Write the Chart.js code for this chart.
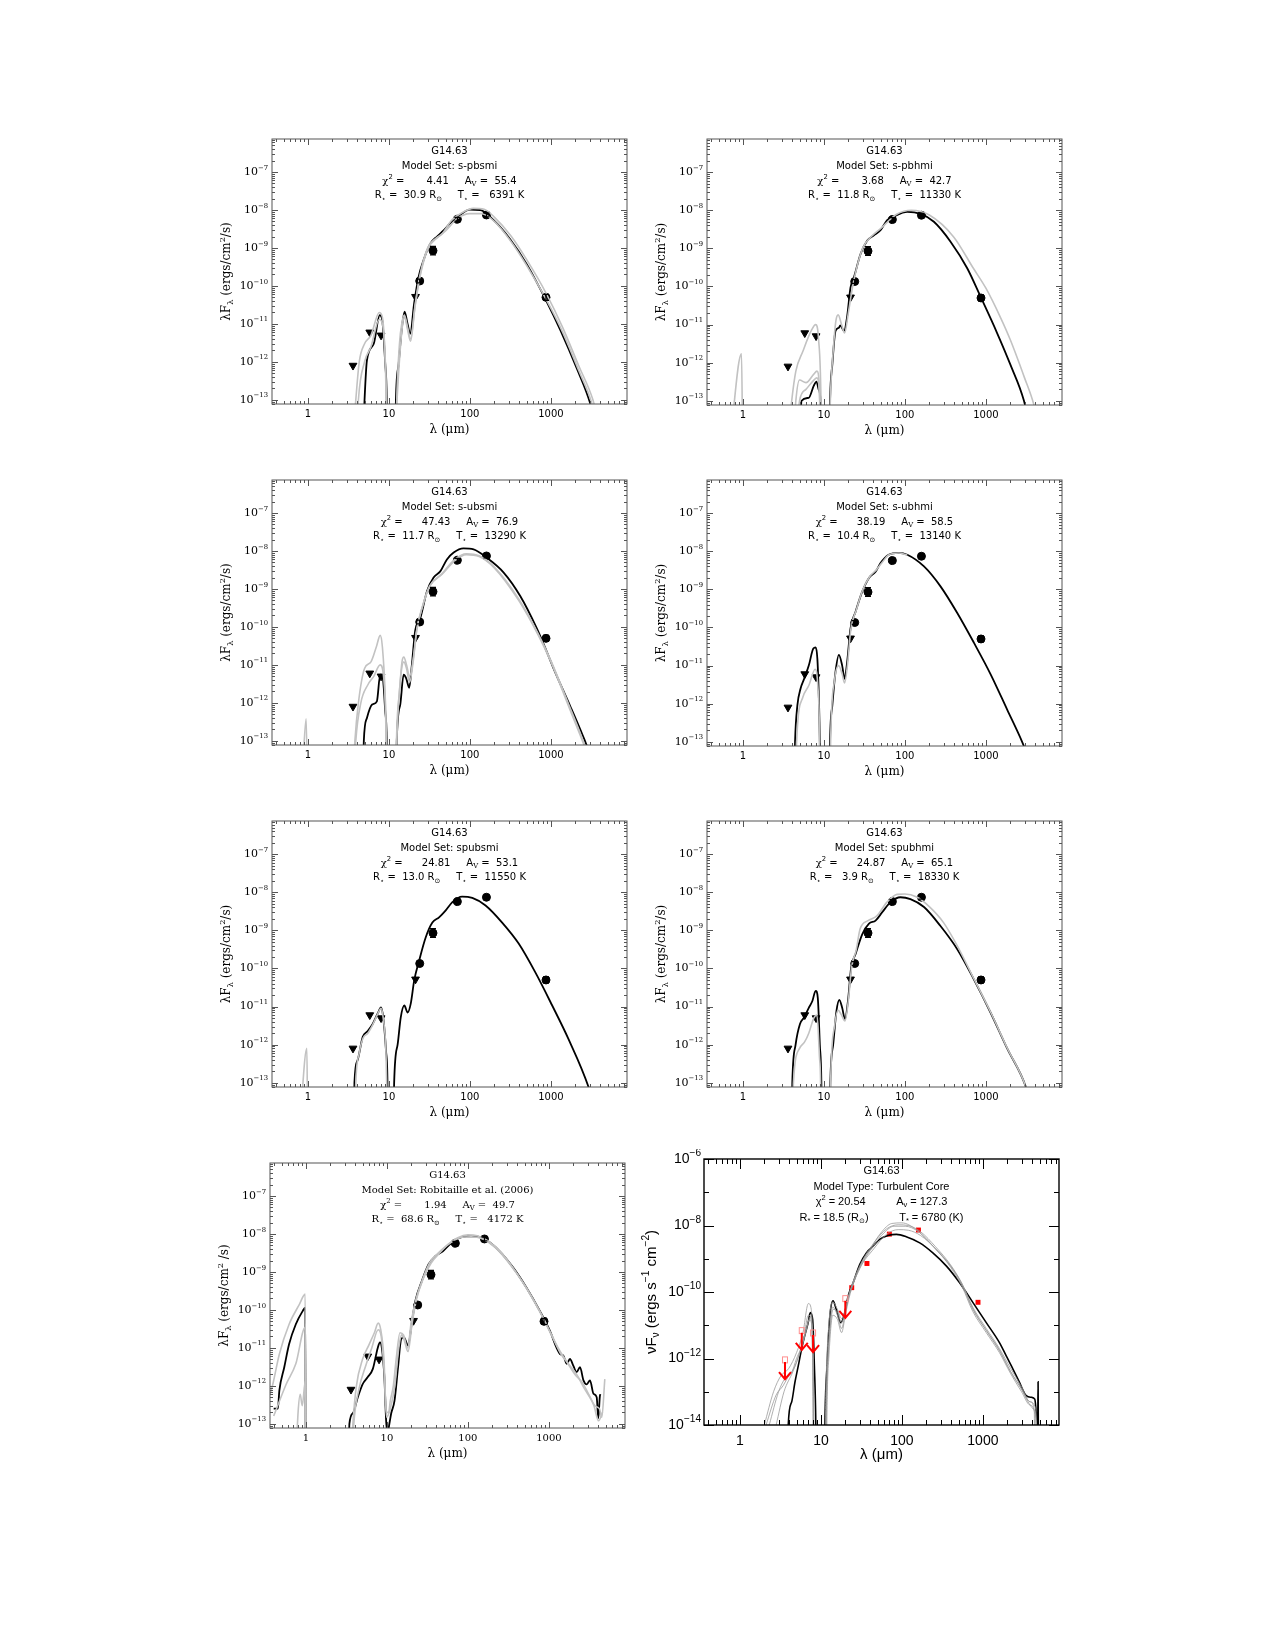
<!DOCTYPE html>
<html>
<head>
<meta charset="utf-8">
<script src="https://cdn.jsdelivr.net/npm/chart.js@4.4.1/dist/chart.umd.min.js"></script>
<style>
  body { margin: 0; background: #fff; }
  #page { position: relative; width: 1275px; height: 1650px; background: #fff; }
  canvas { position: absolute; }
</style>
</head>
<body>
<div id="page"></div>
<script>
// ---- photometry (same source in every panel) ----
const srcName = 'G14.63';
const obsLam = [24, 35, 70, 160, 870];
const obsFlux = [1.35e-10, 8.5e-10, 5.7e-9, 7.4e-9, 5.0e-11];
const obsErr = [0.12, 0.3, 0.12, 0.12, 0.2];
const limLam = [3.6, 5.8, 8.0, 21.3];
const limFlux = [8e-13, 6e-12, 5e-12, 5.2e-11];

// turbulent core panel uses its own points
const tcLam = [24, 37, 70, 160, 870];
const tcFlux = [1.35e-10, 7.2e-10, 5.5e-9, 7.3e-9, 4.9e-11];
const tcLimLam = [3.6, 5.8, 8.0, 20];
const tcLimFlux = [7.9e-13, 6e-12, 5.1e-12, 5.5e-11];

// fit parameters
const modelSets = ['s-pbsmi', 's-pbhmi', 's-ubsmi', 's-ubhmi', 'spubsmi', 'spubhmi', 'Robitaille et al. (2006)'];
const chi2 = ['4.41', '3.68', '47.43', '38.19', '24.81', '24.87', '1.94'];
const avs = ['55.4', '42.7', '76.9', '58.5', '53.1', '65.1', '49.7'];
const rStar = ['30.9', '11.8', '11.7', '10.4', '13.0', '3.9', '68.6'];
const tStar = ['6391', '11330', '13290', '13140', '11550', '18330', '4172'];
const tcChi2 = '20.54', tcAv = '127.3', tcR = '18.5', tcT = '6780';

// ---- model SEDs, [lambda um, lambda F_lambda] ----
const pbsmiBest = [[4.8,1e-14],[5.0,1e-13],[5.35,1.1e-12],[6.5,3e-12],[7.7,1.7e-11],[8.2,1.4e-11],[9.0,9e-13],[9.4,1e-13],[9.6,1e-15],[11.8,1e-15],[12.2,1e-13],[13.2,9e-13],[14.5,8.3e-12],[15.6,2.1e-11],[17,1e-11],[18.3,5.5e-12],[20.5,3.5e-11],[23.2,1.7e-10],[26.8,4.8e-10],[32.4,1.3e-9],[39.2,2e-9],[47.3,2.9e-9],[57.2,4.5e-9],[72.4,6.9e-9],[100,1.02e-8],[134,1e-8],[196,5.4e-9],[314,1.7e-9],[505,3.7e-10],[870,4.2e-11],[1308,6.9e-12],[2100,6.5e-13],[3060,8e-14],[3500,2.5e-14]];
const pbsmiGrey1 = [[3.6,1e-14],[3.9,1e-13],[4.3,1e-12],[5,3e-12],[6,5e-12],[7.6,2e-11],[8.3,1.5e-11],[9,1.2e-12],[9.3,1e-13],[9.5,1e-15],[12,1e-15],[12.5,1e-13],[13.5,3e-12],[14.5,1.1e-11],[15.5,1.7e-11],[17,8e-12],[18.5,4e-12],[21,3e-11],[24,1.8e-10],[30,1e-9],[38,1.8e-9],[45,2.3e-9],[60,5.5e-9],[80,8.5e-9],[110,1.1e-8],[150,1.05e-8],[200,6.5e-9],[320,2.1e-9],[500,5e-10],[870,6.5e-11],[1400,8e-12],[2200,8e-13],[3300,1e-13],[3800,3e-14]];
const pbsmiGrey2 = [[4,1e-14],[4.2,1e-13],[5,1e-12],[6,2.5e-12],[7.6,1.3e-11],[8.4,9e-12],[9.1,5e-13],[9.4,1e-14],[12,1e-14],[12.6,1e-13],[14.5,7e-12],[15.6,1.5e-11],[17,7e-12],[18.5,3.5e-12],[21,2.8e-11],[24,1.6e-10],[30,9e-10],[40,1.9e-9],[50,2.8e-9],[70,6e-9],[100,8e-9],[140,8e-9],[200,5e-9],[320,1.5e-9],[500,3.5e-10],[870,4.5e-11],[1400,6e-12],[2200,6e-13],[3200,8e-14],[3700,2e-14]];

const pbhmiBest = [[5.0,1e-14],[5.3,1e-13],[6.5,1.2e-13],[7.5,2.5e-13],[8.1,3.2e-13],[8.6,2e-13],[9.1,1e-13],[9.4,1e-15],[11.5,1e-15],[11.9,1e-13],[12.7,9e-13],[13.9,6.8e-12],[15.3,8.3e-12],[15.9,9.5e-12],[17.7,6.8e-12],[19.4,1.7e-11],[21.3,9.5e-11],[23.4,1.7e-10],[28.4,7.2e-10],[34.3,1.6e-9],[41.4,2.2e-9],[50,3e-9],[60.4,5.5e-9],[73,6.9e-9],[107,9.1e-9],[156,8e-9],[228,5e-9],[366,1.5e-9],[588,3e-10],[855,5.5e-11],[1375,6e-12],[2000,9e-13],[2950,1e-13],[3400,2.5e-14]];
const pbhmiSpike = [[0.7,1e-14],[0.96,1.7e-12],[0.99,1e-14]];
const pbhmiGrey1 = [[3.6,1e-14],[4,1e-13],[4.5,6e-13],[5.5,2e-12],[7,7e-12],[7.9,1e-11],[8.6,4e-12],[9.2,1e-13],[9.4,1e-15],[11.5,1e-15],[12,1e-13],[13,2e-12],[14,1.2e-11],[15,1.8e-11],[16.5,1e-11],[18,6e-12],[20,2e-11],[23,1.2e-10],[30,1e-9],[40,2.2e-9],[50,3.3e-9],[80,8e-9],[120,1e-8],[200,7.5e-9],[400,2e-9],[700,3e-10],[1000,9e-11],[1500,1.6e-11],[2000,4e-12],[3000,4e-13],[3900,8e-14],[4400,2.5e-14]];
const pbhmiGrey2 = [[4.2,1e-14],[4.5,1e-13],[5,3.5e-13],[6,3e-13],[7.5,5e-13],[8.2,6e-13],[8.8,2e-13],[9.1,1e-14]];
const pbhmiGrey3 = [[4.6,1e-14],[5,1e-13],[6,2e-13],[7.5,3.5e-13],[8.2,4e-13],[8.8,1.5e-13],[9.1,1e-14]];

const ubsmiBest = [[4.8,1e-14],[4.9,1e-13],[5.35,4e-13],[6.2,9e-13],[7.1,1.1e-12],[7.8,5.5e-12],[8.4,4.5e-12],[9.0,6e-13],[9.4,1e-13],[9.6,1e-15],[12.2,1e-15],[12.5,1e-13],[13.8,9e-13],[15.2,5.5e-12],[16.3,4.5e-12],[17.8,2.5e-12],[19.2,1e-11],[21.1,8e-11],[24.4,1.7e-10],[29.5,8.7e-10],[35.6,2e-9],[43,2.9e-9],[52,6e-9],[63,9.1e-9],[83,1.17e-8],[111,1.1e-8],[162,6.6e-9],[261,2.7e-9],[418,6.5e-10],[672,9e-11],[870,2.5e-11],[1080,8e-12],[1740,8e-13],[2300,2e-13],[2800,7e-14],[3300,2e-14]];
const ubsmiSpike = [[0.85,1e-14],[0.95,3.8e-13],[0.98,1e-14]];
const ubsmiGrey1 = [[3.6,1e-14],[3.8,1e-13],[4.2,1e-12],[5,8e-12],[6,1.2e-11],[7,3e-11],[7.8,6e-11],[8.3,3e-11],[9,1.5e-12],[9.3,1e-13],[9.5,1e-15],[12,1e-15],[12.4,1e-13],[13.5,2e-12],[14.5,1.2e-11],[15.3,1.6e-11],[16.5,1e-11],[18,5e-12],[20,1.5e-11],[22,8e-11],[26,3.5e-10],[32,1.2e-9],[45,2.5e-9],[65,6e-9],[90,8.5e-9],[130,7.5e-9],[200,3.8e-9],[400,5.5e-10],[700,6.5e-11],[1000,1.3e-11],[1700,8e-13],[2300,1.6e-13],[2800,5e-14],[3300,1.5e-14]];
const ubsmiGrey2 = [[3.7,1e-14],[3.9,1e-13],[4.5,1e-12],[5.5,3e-12],[6.5,5e-12],[7.8,1e-11],[8.5,6e-12],[9.1,5e-13],[9.4,1e-14],[12.2,1e-14],[12.5,1e-13],[14,5e-12],[15.3,1.2e-11],[16.5,8e-12],[18,3.5e-12],[20,1.3e-11],[22,8e-11],[26,3.5e-10],[32,1.2e-9],[45,2.4e-9],[65,5.5e-9],[90,8e-9],[130,7.2e-9],[200,3.6e-9],[400,5e-10],[700,6e-11],[1000,1.2e-11],[1700,7e-13],[2300,1.4e-13],[2800,4.5e-14],[3300,1.4e-14]];

const ubhmiBest = [[4.3,1e-14],[4.4,1e-13],[4.7,9e-13],[5.15,2.5e-12],[5.7,4.5e-12],[6.5,1e-11],[7.4,2.8e-11],[7.9,3e-11],[8.3,1.5e-11],[8.7,1e-12],[8.9,1e-13],[9.1,1e-15],[11.6,1e-15],[11.9,1e-13],[12.7,9e-13],[13.9,6.8e-12],[15.3,1.9e-11],[16.8,1e-11],[18,4.5e-12],[19.4,1.3e-11],[21.3,9.5e-11],[24.6,2.6e-10],[29.7,8.7e-10],[36,2e-9],[43.4,2.9e-9],[50,4.9e-9],[63,8.1e-9],[84,9.1e-9],[107,8.1e-9],[172,4e-9],[275,1.2e-9],[443,2.4e-10],[710,4e-11],[1140,6e-12],[1830,7e-13],[2800,1e-13],[3500,3e-14]];
const ubhmiGrey1 = [[4.5,1e-14],[4.6,1e-13],[5.5,1.5e-12],[6.5,3e-12],[7.8,8e-12],[8.4,3e-12],[8.8,2e-13],[9.0,1e-15],[11.8,1e-15],[12.1,1e-13],[13.5,4e-12],[15.2,1e-11],[16.8,6e-12],[18,3.5e-12],[19.5,1e-11],[21.5,9e-11],[25,2.8e-10],[30,9.5e-10],[37,2.2e-9],[44,3.2e-9],[52,5e-9],[63,8e-9],[84,9e-9],[107,8e-9]];

const spubsmiBest = [[3.7,1e-14],[3.75,1e-13],[4.1,3.9e-13],[4.75,1.6e-12],[5.5,2.3e-12],[6.3,3.5e-12],[7.25,6.5e-12],[8,9.5e-12],[8.5,5.2e-12],[9.2,7e-13],[9.6,1e-13],[9.8,1e-15],[11.3,1e-15],[11.6,1e-13],[12.8,1e-12],[14,5.2e-12],[15.5,1.07e-11],[17,7e-12],[18.6,1.2e-11],[20.5,4.8e-11],[23.6,1.6e-10],[28.5,6.6e-10],[34.4,1.6e-9],[41.6,2.2e-9],[50,3.3e-9],[60.7,5.5e-9],[80,7.7e-9],[107,7.1e-9],[156,4.5e-9],[250,1.6e-9],[400,4.5e-10],[640,8e-11],[1030,1.1e-11],[1650,1.4e-12],[2900,8e-14],[3400,2.5e-14]];
const spubsmiSpike = [[0.8,1e-14],[0.97,8e-13],[0.99,1e-14]];
const spubsmiGrey1 = [[3.8,1e-14],[3.9,1e-13],[4.3,6e-13],[4.8,1.5e-12],[5.5,2e-12],[6.3,3.3e-12],[7.25,6.3e-12],[8,9e-12],[8.5,5e-12],[9.2,6e-13],[9.6,1e-14]];

const spubhmiBest = [[4.0,1e-14],[4.07,1e-13],[4.47,1e-12],[5.06,3.5e-12],[5.66,5.1e-12],[6.5,9.3e-12],[7.2,1.4e-11],[7.9,2.6e-11],[8.4,1.7e-11],[8.9,1e-12],[9.3,1e-13],[9.5,1e-15],[11.7,1e-15],[12,1e-13],[13,1e-12],[14.3,7.8e-12],[15.5,1.5e-11],[16.8,9.3e-12],[18.2,4.7e-12],[19.8,1.4e-11],[21.7,1.07e-10],[24.6,2.4e-10],[29.7,7.9e-10],[36,1.5e-9],[43.4,1.8e-9],[52.5,3e-9],[66.5,5.5e-9],[88,7.4e-9],[117,6.6e-9],[172,4.1e-9],[275,1.3e-9],[443,3.2e-10],[710,5.2e-11],[1140,7e-12],[1830,8e-13],[3100,8e-14],[3600,2.5e-14]];
const spubhmiGrey1 = [[4.1,1e-14],[4.2,1e-13],[5,8e-13],[5.8,1.2e-12],[6.5,2e-12],[7.5,5e-12],[8.2,6e-12],[8.8,5e-13],[9.1,1e-13],[9.3,1e-15],[11.8,1e-15],[12.1,1e-13],[13.5,3e-12],[15,8e-12],[16.5,6e-12],[18.2,4.2e-12],[20,1.4e-11],[22,1.1e-10],[25,3e-10],[28,1.1e-9],[35,1.8e-9],[45,2.4e-9],[60,5.5e-9],[80,8.8e-9],[100,9e-9],[140,7.5e-9],[200,4.2e-9],[300,1.6e-9],[450,3.7e-10],[710,5.4e-11],[1140,7.2e-12],[1830,8.2e-13],[3100,8e-14],[3600,2.5e-14]];

const robBest = [[0.4,2.5e-13],[0.45,2.5e-13],[0.47,7.6e-13],[0.54,3.1e-12],[0.62,1.26e-11],[0.75,4.2e-11],[0.91,9.3e-11],[0.98,1.15e-10],[0.995,1e-15],[3.3,1e-15],[3.44,1e-13],[3.8,1.9e-13],[4.37,5e-13],[5.0,1.1e-12],[5.8,1.7e-12],[6.7,2.8e-12],[7.7,1e-11],[8.2,1.4e-11],[8.6,1.1e-11],[9.3,1.7e-12],[9.8,1.1e-13],[10.2,6e-14],[10.8,1.1e-13],[11.3,1.9e-13],[12.4,4e-13],[13.7,3e-12],[15,1.7e-11],[16.2,1.9e-11],[17.6,1.3e-11],[18.2,1.15e-11],[20.4,5e-11],[22.4,1.7e-10],[27,5.8e-10],[32.7,1.6e-9],[39.6,2.6e-9],[49,3.5e-9],[59,5.2e-9],[75.5,7.6e-9],[96,8.7e-9],[126,8.7e-9],[170,6.8e-9],[247,3.5e-9],[362,1.3e-9],[527,3.9e-10],[775,9.3e-11],[1030,2.8e-11],[1245,1e-11],[1370,6.9e-12],[1507,6.3e-12],[1660,3.8e-12],[1820,5.1e-12],[2000,3.4e-12],[2200,2.3e-12],[2420,3.1e-12],[2670,1.4e-12],[2930,1.1e-12],[3220,1.4e-12],[3550,6.2e-13],[3890,5e-13],[4070,1.4e-13],[4270,5.6e-13],[4350,6e-13]];
const robGrey1 = [[0.36,6e-13],[0.39,1.1e-12],[0.47,6.9e-12],[0.62,4.2e-11],[0.83,1.4e-10],[0.98,2.6e-10],[0.995,1e-15],[3.4,1e-15],[3.6,1e-14],[3.8,1e-13],[4.2,1e-12],[5,5e-12],[6,1.2e-11],[7,2.5e-11],[7.8,4.5e-11],[8.4,3e-11],[9.2,5e-12],[9.8,2e-13],[10.5,2e-13],[11,4e-13],[12,1e-12],[13,5e-12],[14.5,2.5e-11],[16,2.2e-11],[18,1e-11],[20,5e-11],[23,2e-10],[28,7e-10],[34,1.8e-9],[42,3e-9],[55,5e-9],[75,8e-9],[100,9.5e-9],[130,9e-9],[180,6.5e-9],[260,3.2e-9],[380,1.1e-9],[550,3.3e-10],[800,8e-11],[1100,2e-11],[1400,7e-12],[1800,3.5e-12],[2200,2e-12],[2700,9e-13],[3200,5e-13],[3700,3e-13],[4200,2.5e-13],[4500,1.5e-13],[4900,1.5e-12]];
const robGrey2 = [[0.4,1.6e-13],[0.57,1.1e-12],[0.75,3.8e-12],[0.98,3.5e-11],[0.995,1e-15],[3.5,1e-15],[3.7,1e-14],[3.9,1e-13],[4.5,8e-13],[5.5,3.5e-12],[6.5,1e-11],[7.8,3e-11],[8.5,2e-11],[9.3,2e-12],[9.9,1.5e-13],[11,2.5e-13],[12.5,1e-12],[14,1e-11],[15.2,2.2e-11],[16.5,1.5e-11],[18.2,8e-12],[20.5,4.5e-11],[23,1.8e-10],[28,6.5e-10],[35,1.7e-9],[45,3.2e-9],[60,5.8e-9],[80,8e-9],[110,8.5e-9],[150,7.5e-9],[220,4.3e-9],[330,1.6e-9],[500,4.5e-10],[750,1e-10],[1000,3e-11],[1300,1e-11],[1700,4e-12],[2100,2e-12],[2600,1.2e-12],[3100,6e-13],[3600,3e-13],[4100,1.2e-13],[4600,2e-13]];
const robGrey3 = [[0.75,1e-14],[0.8,2e-13],[0.85,6e-13],[0.9,3e-13],[0.98,1.3e-12],[0.995,1e-15]];

const tcBest = [[3.9,1e-15],[3.95,1e-14],[4.34,4.8e-14],[4.77,1.9e-13],[5.25,6e-13],[5.76,1.9e-12],[6.3,4.8e-12],[6.96,1.2e-11],[7.4,2.4e-11],[7.9,1.5e-11],[8.3,6e-13],[8.65,1e-14],[8.8,1e-16],[11,1e-16],[11.2,1e-14],[11.9,6e-13],[12.9,1.9e-11],[14.1,5.4e-11],[15.5,3e-11],[17.6,1.2e-11],[19.7,2.4e-11],[21.7,7.6e-11],[25,1.9e-10],[30.2,6.8e-10],[36.4,1.5e-9],[44,2.4e-9],[53,3.8e-9],[67.5,5e-9],[85.6,5.4e-9],[113,4.6e-9],[166,3e-9],[241,1.5e-9],[355,6e-10],[516,1.9e-10],[754,4.8e-11],[1100,1.2e-11],[1600,3e-12],[1940,1.2e-12],[2350,4.8e-13],[2830,1.9e-13],[3430,7.6e-14],[3970,6.8e-14],[4370,6e-14],[4750,1e-14],[4800,2e-13],[4850,1e-15]];
const tcGrey1 = [[2.0,1e-14],[2.6,1e-13],[3.2,3e-13],[4,5e-13],[5,1.5e-12],[6,6e-12],[7,4.5e-11],[7.6,3e-11],[8.1,1e-13],[8.3,1e-16],[11,1e-16],[11.5,1e-13],[12.5,1e-11],[14,5e-11],[16,3e-11],[18,1.6e-11],[20,3e-11],[22,8e-11],[30,5.5e-10],[40,1.8e-9],[55,6e-9],[75,1.15e-8],[100,1.2e-8],[150,7.5e-9],[250,2.2e-9],[400,6e-10],[550,1.7e-10],[750,3e-11],[1100,7e-12],[1600,1.8e-12],[2200,4e-13],[3000,1.2e-13],[3600,5e-14],[4200,3e-14],[4600,1e-14],[4700,1e-16]];
const tcGrey2 = [[2.3,1e-14],[3,1e-13],[3.6,2.5e-13],[4.3,3.5e-13],[5,1e-12],[6,3e-12],[7,2e-11],[7.6,1.5e-11],[8,1e-13],[8.2,1e-16],[11.2,1e-16],[11.8,1e-13],[13,1e-11],[14,3.5e-11],[16,2e-11],[18,8e-12],[20,2.5e-11],[22,7e-11],[30,5e-10],[45,2.5e-9],[60,6e-9],[80,9.5e-9],[110,9.5e-9],[160,6.5e-9],[250,2.2e-9],[400,5.5e-10],[550,1.5e-10],[750,2.6e-11],[1100,6e-12],[1600,1.5e-12],[2200,3.5e-13],[3000,1e-13],[3800,4e-14],[4400,2e-14],[4500,1e-16]];
const tcGrey3 = [[2.8,1e-14],[3.5,1e-13],[4.5,4e-13],[5.5,1.5e-12],[6.5,6e-12],[7.2,1.5e-11],[7.8,8e-12],[8.1,1e-13],[8.2,1e-16],[11.5,1e-16],[12,1e-13],[12.5,1e-12],[14,2e-11],[16,1.5e-11],[18,6e-12],[20,2e-11],[23,9e-11],[30,5e-10],[45,2e-9],[65,5.5e-9],[90,7.5e-9],[120,7.2e-9],[170,5e-9],[260,2e-9],[400,6e-10],[550,1.8e-10],[750,3.5e-11],[1100,8e-12],[1600,2e-12],[2200,5e-13],[3000,1.4e-13],[3800,5e-14],[4300,3e-14],[4400,1e-16]];
const tcGrey4 = [[2.1,1e-14],[2.8,8e-14],[3.4,1.5e-13],[4,3e-13],[4.8,6e-13],[5.8,2.5e-12],[6.8,1e-11],[7.4,1.8e-11],[7.9,1e-12],[8.1,1e-16],[11.3,1e-16],[11.8,1e-13],[13,8e-12],[14.2,3e-11],[16,2.5e-11],[18,1.2e-11],[20,3e-11],[23,1.1e-10],[30,6e-10],[45,3e-9],[65,8e-9],[90,1.05e-8],[120,1e-8],[170,6.5e-9],[260,2.3e-9],[400,6.5e-10],[550,1.8e-10],[750,3.2e-11],[1100,7e-12],[1600,1.7e-12],[2200,4e-13],[3000,1.2e-13],[3800,5e-14],[4500,3e-14],[4700,1e-16]];

const xTickVals = [1, 10, 100, 1000];
const yTickVals = [1e-13, 1e-12, 1e-11, 1e-10, 1e-9, 1e-8, 1e-7];
const tcYTickVals = [1e-14, 1e-12, 1e-10, 1e-8, 1e-6];

// ---- helpers ----
const SANS = '"DejaVu Sans", sans-serif';
const SERIF = '"DejaVu Serif", serif';
const IDL = '"Liberation Sans", Arial, sans-serif';
const toXY = arr => arr.map(p => ({x: p[0], y: p[1]}));
const zip = (xs, ys) => xs.map((x, i) => ({x: x, y: ys[i]}));

function drawRich(ctx, segs, x, y, size, family, align, supScale) {
  const sc = supScale || 0.68;
  const fontOf = g => (g[1] ? size * sc : size) + 'px ' + (g[2] || family);
  let w = 0;
  segs.forEach(g => { ctx.font = fontOf(g); w += ctx.measureText(g[0]).width; });
  let cx = align === 'center' ? x - w / 2 : align === 'right' ? x - w : x;
  ctx.textAlign = 'left';
  ctx.textBaseline = 'middle';
  segs.forEach(g => {
    ctx.font = fontOf(g);
    const dy = g[1] === 'sup' ? -size * 0.38 : g[1] === 'sub' ? size * 0.3 : 0;
    ctx.fillText(g[0], cx, y + dy);
    cx += ctx.measureText(g[0]).width;
  });
}

const decor = {
  id: 'decor',
  afterDatasetsDraw(chart, args, o) {
    const ctx = chart.ctx, a = chart.chartArea, xs = chart.scales.x, ys = chart.scales.y;
    ctx.save();
    chart.data.datasets.forEach(ds => {
      if (ds.errs) {
        ctx.strokeStyle = '#000';
        ctx.lineWidth = 1.3;
        ds.data.forEach((p, j) => {
          const px = xs.getPixelForValue(p.x);
          const y1 = ys.getPixelForValue(p.y * (1 + ds.errs[j]));
          const y2 = ys.getPixelForValue(p.y / (1 + ds.errs[j]));
          ctx.beginPath();
          ctx.moveTo(px, y1); ctx.lineTo(px, y2);
          ctx.moveTo(px - 3, y1); ctx.lineTo(px + 3, y1);
          ctx.moveTo(px - 3, y2); ctx.lineTo(px + 3, y2);
          ctx.stroke();
        });
      }
      if (ds.arrows) {
        ds.data.forEach(p => {
          const px = xs.getPixelForValue(p.x);
          const y0 = ys.getPixelForValue(p.y);
          const y1 = ys.getPixelForValue(p.y / 3.3);
          ctx.strokeStyle = '#ff9090';
          ctx.lineWidth = 1;
          ctx.strokeRect(px - 2.5, y0 - 5, 5, 6);
          ctx.strokeStyle = '#ff0000';
          ctx.lineWidth = 2;
          ctx.beginPath();
          ctx.moveTo(px, y0); ctx.lineTo(px, y1);
          ctx.moveTo(px - 6, y1 - 7); ctx.lineTo(px, y1); ctx.lineTo(px + 6, y1 - 7);
          ctx.stroke();
        });
      }
    });
    // frame and inward ticks on all four sides
    ctx.strokeStyle = o.frameColor;
    ctx.lineWidth = o.frameWidth;
    ctx.strokeRect(a.left, a.top, a.right - a.left, a.bottom - a.top);
    ctx.lineWidth = 1;
    ctx.beginPath();
    for (let e = -1; e <= 4; e++) {
      for (let m = 1; m < 10; m++) {
        const v = m * Math.pow(10, e);
        if (v < xs.min || v > xs.max) continue;
        const px = Math.round(xs.getPixelForValue(v)) + 0.5;
        const L = m === 1 ? o.major : o.minor;
        ctx.moveTo(px, a.bottom); ctx.lineTo(px, a.bottom - L);
        ctx.moveTo(px, a.top); ctx.lineTo(px, a.top + L);
      }
    }
    for (let e = -15; e <= -5; e++) {
      for (let m = 1; m < 10; m++) {
        if (m > 1 && !o.yMinor) continue;
        const v = m * Math.pow(10, e);
        if (v < ys.min || v > ys.max) continue;
        const py = Math.round(ys.getPixelForValue(v)) + 0.5;
        let L = m === 1 ? o.major : o.minor;
        if (o.yAlt && m === 1 && e % 2 !== 0) L = o.minor;
        ctx.moveTo(a.left, py); ctx.lineTo(a.left + L, py);
        ctx.moveTo(a.right, py); ctx.lineTo(a.right - L, py);
      }
    }
    ctx.stroke();
    ctx.restore();
  },
  afterDraw(chart, args, o) {
    const ctx = chart.ctx, a = chart.chartArea, ys = chart.scales.y;
    ctx.save();
    ctx.fillStyle = '#000';
    // y tick labels with real superscripts, placed by the y scale
    ys.ticks.forEach(t => {
      const py = ys.getPixelForValue(t.value);
      const ex = String(Math.round(Math.log10(t.value))).replace('-', '−');
      drawRich(ctx, [['10'], [ex, 'sup']], a.left - o.yLabPad, py, o.yLabSize, o.yLabFont, 'right', o.yLabSup);
    });
    const cx = (a.left + a.right) / 2;
    o.lines.forEach((segs, i) => drawRich(ctx, segs, cx, a.top + o.textTop + i * o.textGap, o.textSize, o.textFont, 'center'));
    drawRich(ctx, o.xTitle, cx, a.bottom + o.xTitleOff, o.titleSize, o.titleFont, 'center');
    ctx.translate(a.left - o.yTitleOff, (a.top + a.bottom) / 2);
    ctx.rotate(-Math.PI / 2);
    drawRich(ctx, o.yTitle, 0, 0, o.titleSize, o.titleFont, 'center');
    ctx.restore();
  }
};

const curve = (arr, color, width) => ({
  data: toXY(arr), showLine: true, pointRadius: 0, borderColor: color, borderWidth: width,
  cubicInterpolationMode: 'monotone', fill: false
});

function setLines(i) {
  return [
    [[srcName]],
    [['Model Set: ' + modelSets[i]]],
    [['χ', null, SERIF], ['2', 'sup'], [' =' + chi2[i].padStart(11) + '     A'], ['V', 'sub', SERIF], [' = ' + avs[i].padStart(5)]],
    [['R'], ['⋆', 'sub'], [' = ' + rStar[i].padStart(5) + ' R'], ['⊙', 'sub'], ['     T'], ['⋆', 'sub'], [' = ' + tStar[i].padStart(6) + ' K']]
  ];
}

function makePanel(p) {
  const PT = 10, PR = 12;
  const w = p.frame[2] - p.frame[0], h = p.frame[3] - p.frame[1];
  const cv = document.createElement('canvas');
  cv.width = p.ml + w + PR;
  cv.height = PT + h + p.mb;
  cv.style.left = (p.frame[0] - p.ml) + 'px';
  cv.style.top = (p.frame[1] - PT) + 'px';
  cv.style.width = cv.width + 'px';
  cv.style.height = cv.height + 'px';
  document.getElementById('page').appendChild(cv);
  new Chart(cv, {
    type: 'line',
    data: { datasets: p.datasets },
    options: {
      responsive: false,
      animation: false,
      devicePixelRatio: 1,
      layout: { padding: { top: PT, right: PR, left: 0, bottom: 0 } },
      plugins: {
        legend: { display: false },
        tooltip: { enabled: false },
        decor: p.decor
      },
      scales: {
        x: {
          type: 'logarithmic', min: 0.36, max: 8700,
          grid: { display: false, drawTicks: false }, border: { display: false },
          ticks: { autoSkip: false, maxRotation: 0, padding: p.xPad, color: '#000', font: p.xFont,
                   callback: v => String(v) },
          afterBuildTicks: s => { s.ticks = xTickVals.map(v => ({ value: v })); },
          afterFit: s => { s.height = p.mb; }
        },
        y: {
          type: 'logarithmic', min: p.ymin, max: p.ymax,
          grid: { display: false, drawTicks: false }, border: { display: false },
          ticks: { display: false },
          afterBuildTicks: s => { s.ticks = p.yTicks.map(v => ({ value: v })); },
          afterFit: s => { s.width = p.ml; }
        }
      }
    },
    plugins: [decor]
  });
}

const GREY = '#c2c2c2';
function obsSets() {
  return [
    { data: zip(limLam, limFlux), showLine: false, pointStyle: 'triangle', rotation: 180, pointRadius: 4.5,
      backgroundColor: '#000', borderColor: '#000', borderWidth: 1 },
    { data: zip(obsLam, obsFlux), errs: obsErr, showLine: false, pointStyle: 'circle', pointRadius: 4,
      backgroundColor: '#000', borderColor: '#000', borderWidth: 1 }
  ];
}
function mplPanel(i, frame, greys, best, serifText) {
  const tf = serifText ? SERIF : SANS;
  const ds = greys.map(g => curve(g, GREY, 1.6)).concat([curve(best, '#000', 1.8)]).concat(obsSets());
  makePanel({
    frame: frame, ml: 70, mb: 40, xPad: 4,
    ymin: Math.pow(10, -13.11), ymax: Math.pow(10, -6.13), yTicks: yTickVals,
    xFont: { family: serifText ? SERIF : SANS, size: 10 },
    datasets: ds,
    decor: {
      frameColor: '#555', frameWidth: 1, major: 6, minor: 3, yMinor: true, yAlt: false,
      yLabPad: 4, yLabSize: 11, yLabFont: SERIF, yLabSup: 0.62,
      lines: setLines(i), textFont: tf, textSize: 10, textTop: 12.5, textGap: 14.8,
      xTitle: [['λ (', null], ['μ', null, SERIF], ['m)']], xTitleOff: 26,
      yTitle: [['λF'], ['λ', 'sub'], [' (ergs/cm'], ['2', 'sup'], [serifText ? ' /s)' : '/s)']],
      yTitleOff: 45, titleSize: 12, titleFont: SERIF
    }
  });
}

mplPanel(0, [272, 139, 627, 404], [pbsmiGrey1, pbsmiGrey2], pbsmiBest, false);
mplPanel(1, [707, 139, 1062, 405], [pbhmiSpike, pbhmiGrey1, pbhmiGrey2, pbhmiGrey3], pbhmiBest, false);
mplPanel(2, [272, 480, 627, 745], [ubsmiSpike, ubsmiGrey1, ubsmiGrey2], ubsmiBest, false);
mplPanel(3, [707, 480, 1062, 746], [ubhmiGrey1], ubhmiBest, false);
mplPanel(4, [272, 821, 627, 1087], [spubsmiSpike, spubsmiGrey1], spubsmiBest, false);
mplPanel(5, [707, 821, 1062, 1087], [spubhmiGrey1], spubhmiBest, false);
mplPanel(6, [270, 1163, 625, 1428], [robGrey3, robGrey2, robGrey1], robBest, true);

// turbulent core panel
makePanel({
  frame: [704, 1159, 1059, 1425], ml: 85, mb: 45, xPad: 8,
  ymin: 1e-14, ymax: 1e-6, yTicks: tcYTickVals,
  xFont: { family: IDL, size: 14 },
  datasets: [
    curve(tcGrey1, '#9a9a9a', 0.8), curve(tcGrey2, '#9a9a9a', 0.8),
    curve(tcGrey3, '#9a9a9a', 0.8), curve(tcGrey4, '#9a9a9a', 0.8),
    curve(tcBest, '#000', 1.6),
    { data: zip(tcLimLam, tcLimFlux), arrows: true, showLine: false, pointRadius: 0 },
    { data: zip(tcLam, tcFlux), showLine: false, pointStyle: 'rect', pointRadius: 3.5,
      backgroundColor: '#ff0000', borderColor: '#ff0000', borderWidth: 0 }
  ],
  decor: {
    frameColor: '#000', frameWidth: 1.4, major: 10, minor: 5, yMinor: false, yAlt: true,
    yLabPad: 3, yLabSize: 14, yLabFont: IDL, yLabSup: 0.72,
    lines: [
      [[srcName]],
      [['Model Type: Turbulent Core']],
      [['χ'], ['2', 'sup'], [' = ' + tcChi2 + '          A'], ['v', 'sub'], [' = ' + tcAv]],
      [['R'], ['*', 'sub'], [' = ' + tcR + ' (R'], ['⊙', 'sub'], [')          T'], ['*', 'sub'], [' = ' + tcT + ' (K)']]
    ],
    textFont: IDL, textSize: 11, textTop: 12, textGap: 15.5,
    xTitle: [['λ (μm)']], xTitleOff: 30,
    yTitle: [['νF'], ['ν', 'sub'], [' (ergs s'], ['−1', 'sup'], [' cm'], ['−2', 'sup'], [')']],
    yTitleOff: 52, titleSize: 15, titleFont: IDL
  }
});
</script>
</body>
</html>
